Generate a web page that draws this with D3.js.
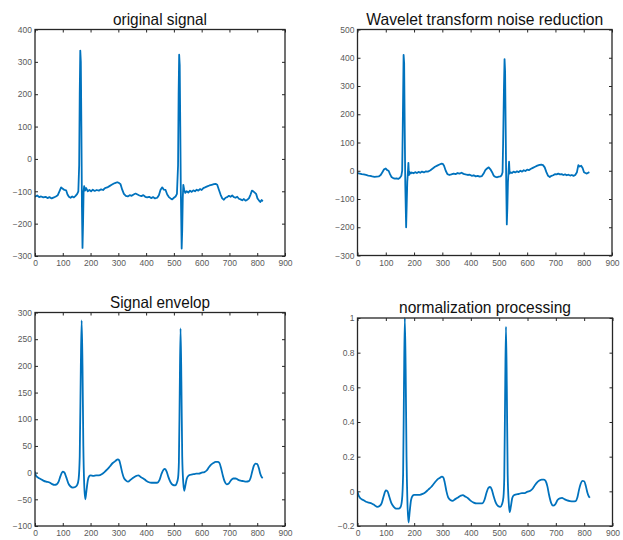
<!DOCTYPE html>
<html><head><meta charset="utf-8">
<script src="https://cdn.jsdelivr.net/npm/d3@7"></script>
<style>body{margin:0;background:#fff}svg{display:block}</style>
</head><body>
<script>
// ---- data ----
const origX = [0,8,15,22,30,38,45,52,60,68,75,82,88,94,100,106,112,117,122,128,134,140,146,152,156,159,161,163,165,167,169,171,173,175,177,180,184,190,196,202,208,215,222,230,238,245,252,260,268,276,284,290,296,302,308,314,320,327,334,341,348,355,362,369,376,383,390,397,404,411,418,425,432,440,446,452,458,464,470,476,482,488,494,500,506,511,515,517,519,521,523,525,528,530,532,534,537,541,546,552,558,564,570,576,582,588,594,600,606,612,620,628,636,644,650,656,662,668,674,680,686,692,698,704,710,716,722,728,734,740,746,752,758,764,770,776,781,786,791,796,801,806,811,816,820];
const origY = [-117,-113,-118,-116,-119,-117,-121,-118,-122,-119,-116,-112,-100,-88,-92,-96,-97,-110,-117,-120,-116,-119,-114,-108,-100,-20,200,335,300,100,-150,-275,-200,-100,-84,-98,-90,-100,-96,-100,-95,-99,-96,-98,-94,-96,-90,-88,-84,-80,-76,-74,-72,-74,-78,-95,-108,-114,-116,-112,-114,-110,-107,-110,-113,-115,-112,-117,-119,-117,-121,-118,-122,-120,-112,-95,-88,-95,-96,-110,-118,-122,-125,-120,-116,-108,-20,200,322,290,100,-100,-277,-220,-120,-80,-95,-105,-100,-104,-98,-102,-97,-100,-95,-98,-93,-96,-90,-88,-85,-82,-80,-78,-77,-80,-95,-110,-122,-126,-120,-118,-114,-117,-113,-118,-120,-117,-123,-125,-128,-124,-129,-126,-122,-110,-98,-100,-104,-108,-122,-128,-133,-127,-131];

const waveX = [0,8,15,22,30,38,45,52,60,68,75,82,88,94,100,105,110,115,120,126,132,138,144,150,155,158,160,163,165,167,169,172,174,176,178,180,182,185,188,192,198,204,210,216,222,228,235,242,250,258,266,274,282,290,296,302,306,312,318,325,332,340,347,354,361,368,375,382,390,397,404,411,418,425,432,440,446,452,458,464,470,476,482,488,494,500,506,510,513,515,518,520,522,524,526,528,530,532,534,536,538,541,546,552,558,564,570,576,582,588,594,600,606,612,620,628,636,644,650,656,662,668,674,680,686,692,698,704,710,716,722,728,734,740,746,752,758,764,770,776,781,786,791,796,801,806,811,816,820];
const waveY = [-8,-10,-12,-13,-15,-17,-18,-20,-22,-21,-20,-15,-5,5,8,2,0,-12,-22,-26,-28,-27,-29,-25,-18,0,150,410,380,150,-50,-200,-120,-40,-10,28,-15,-5,-10,-6,-9,-5,-8,-4,-7,-3,-6,-2,-3,2,8,14,18,22,25,24,18,0,-12,-15,-13,-10,-12,-8,-10,-7,-11,-13,-15,-14,-18,-16,-20,-18,-21,-19,-10,2,8,12,5,-5,-18,-22,-23,-21,-20,-15,-5,100,300,395,350,150,-50,-190,-130,-40,-5,32,-10,-5,-8,-3,-6,-2,-5,0,-3,2,-1,4,2,6,10,14,18,21,22,20,12,-5,-18,-22,-18,-16,-12,-13,-10,-13,-12,-15,-13,-16,-14,-17,-15,-18,-15,-5,20,15,18,10,-5,-8,-10,-7,-5];

const envX = [0,3,10,20,30,40,50,60,70,78,85,92,100,106,112,120,128,136,145,152,157,161,165,168,171,174,177,181,185,190,195,200,210,220,230,240,250,260,270,280,290,298,303,308,314,320,328,335,345,355,365,372,380,390,400,410,420,430,440,448,455,462,468,474,480,488,496,504,510,515,518,521,524,527,530,534,537,541,546,552,560,570,580,590,600,610,618,626,634,642,650,658,664,670,676,683,690,698,706,714,722,730,740,750,760,770,776,782,788,794,800,806,811,816,820];
const envY = [2,-5,-9,-12,-15,-17,-18,-21,-23,-22,-17,-6,2,0,-8,-20,-26,-28,-27,-23,-12,30,200,285,200,50,-20,-50,-35,-15,-7,-5,-6,-5,-5,-3,1,6,12,18,22,25,23,14,0,-10,-15,-17,-13,-9,-6,-5,-8,-11,-15,-18,-19,-19,-19,-14,-3,5,7,2,-8,-18,-23,-24,-20,-10,20,150,270,170,30,-20,-34,-25,-12,-6,-4,-3,-2,-2,0,1,4,10,15,18,20,20,18,8,-5,-17,-22,-20,-14,-11,-11,-13,-15,-16,-17,-16,-10,2,13,17,16,8,-2,-8,-10];

const normX = [0,3,10,20,30,40,50,60,70,78,85,92,100,106,112,120,128,136,145,152,157,161,164,167,170,173,176,180,184,189,195,200,210,220,230,240,250,260,270,280,290,298,303,308,314,320,328,335,345,355,365,372,380,390,400,410,420,430,440,448,455,462,468,474,480,488,496,504,510,515,518,521,524,527,530,534,537,541,546,552,560,570,580,590,600,610,618,626,634,642,650,658,664,670,676,683,690,698,706,714,722,730,740,750,760,770,776,782,788,794,800,806,811,816,820];
const normY = [0,-0.02,-0.04,-0.05,-0.06,-0.065,-0.07,-0.08,-0.09,-0.085,-0.07,-0.03,0.005,0,-0.03,-0.07,-0.09,-0.1,-0.1,-0.09,-0.05,0.1,0.6,1.0,0.7,0.2,-0.05,-0.18,-0.12,-0.05,-0.025,-0.02,-0.02,-0.02,-0.015,-0.005,0.01,0.025,0.045,0.065,0.077,0.085,0.08,0.05,0,-0.035,-0.05,-0.055,-0.045,-0.035,-0.025,-0.022,-0.03,-0.04,-0.055,-0.065,-0.07,-0.07,-0.07,-0.05,-0.01,0.02,0.025,0.01,-0.025,-0.065,-0.085,-0.09,-0.075,-0.035,0.08,0.55,0.95,0.6,0.1,-0.07,-0.12,-0.09,-0.04,-0.022,-0.018,-0.015,-0.01,-0.01,-0.002,0.003,0.015,0.035,0.052,0.062,0.068,0.068,0.06,0.03,-0.02,-0.065,-0.082,-0.075,-0.05,-0.04,-0.038,-0.045,-0.052,-0.056,-0.058,-0.056,-0.035,0.01,0.045,0.06,0.058,0.03,-0.005,-0.028,-0.037];

const xTicks = [0,100,200,300,400,500,600,700,800,900];
const origTicks = [-300,-200,-100,0,100,200,300,400];
const waveTicks = [-300,-200,-100,0,100,200,300,400,500];
const envTicks = [-100,-50,0,50,100,150,200,250,300];
const normTicks = [-0.2,0,0.2,0.4,0.6,0.8,1];
const titles = ["original signal","Wavelet transform noise reduction","Signal envelop","normalization processing"];

// ---- layout ----
const panels = [
  {x:origX, y:origY, yt:origTicks, box:[35,285,29.5,256], tb:25, tw:94, curve:d3.curveLinear},
  {x:waveX, y:waveY, yt:waveTicks, box:[357.5,612,29.5,255.5], tb:25, tw:237, curve:d3.curveLinear},
  {x:envX, y:envY, yt:envTicks, box:[35,285,312.5,526], tb:308, tw:100, curve:d3.curveMonotoneX},
  {x:normX, y:normY, yt:normTicks, box:[357.5,612.5,318,526], tb:313, tw:172, curve:d3.curveMonotoneX}
];

const svg = d3.select("body").append("svg").attr("width",623).attr("height",540);
const fontFam = "'Liberation Sans', Arial, Helvetica, sans-serif";

panels.forEach((p,i)=>{
  const [x0,x1,y0,y1] = p.box;
  const xs = d3.scaleLinear().domain([0,900]).range([x0,x1]);
  const ys = d3.scaleLinear().domain([p.yt[0], p.yt[p.yt.length-1]]).range([y1,y0]);
  const g = svg.append("g");

  svg.append("clipPath").attr("id","c"+i).append("rect")
    .attr("x",x0).attr("y",y0-1).attr("width",x1-x0).attr("height",y1-y0+2);

  const fmt = d => (Math.abs(d) < 1e-9 ? "0" : d3.format("~g")(d));
  const styleAxis = sel => {
    sel.select(".domain").remove();
    sel.selectAll("line").attr("stroke","#262626").attr("stroke-width",1);
    sel.selectAll("text").attr("fill","#5a5a5a").style("font-family",fontFam).style("font-size","8.5px");
  };
  g.append("g").attr("transform",`translate(0,${y1})`)
    .call(d3.axisBottom(xs).tickValues(xTicks).tickSizeInner(-3).tickSizeOuter(0).tickPadding(4).tickFormat(fmt)).call(styleAxis);
  g.append("g").attr("transform",`translate(0,${y0})`)
    .call(d3.axisTop(xs).tickValues(xTicks).tickSizeInner(-3).tickSizeOuter(0).tickFormat("")).call(styleAxis);
  g.append("g").attr("transform",`translate(${x0},0)`)
    .call(d3.axisLeft(ys).tickValues(p.yt).tickSizeInner(-3).tickSizeOuter(0).tickPadding(3).tickFormat(fmt)).call(styleAxis);
  g.append("g").attr("transform",`translate(${x1},0)`)
    .call(d3.axisRight(ys).tickValues(p.yt).tickSizeInner(-3).tickSizeOuter(0).tickFormat("")).call(styleAxis);

  const pts = p.x.map((v,k)=>[v,p.y[k]]);
  g.append("path").datum(pts)
    .attr("clip-path",`url(#c${i})`)
    .attr("fill","none").attr("stroke","#0072BD").attr("stroke-width",1.8)
    .attr("stroke-linejoin","round")
    .attr("d", d3.line().x(d=>xs(d[0])).y(d=>ys(d[1])).curve(p.curve));

  g.append("rect").attr("x",x0).attr("y",y0).attr("width",x1-x0).attr("height",y1-y0)
    .attr("fill","none").attr("stroke","#262626").attr("stroke-width",1.3);

  g.append("text").attr("x",(x0+x1)/2).attr("y",p.tb).attr("text-anchor","middle")
    .attr("textLength",p.tw).attr("lengthAdjust","spacingAndGlyphs")
    .style("font-family",fontFam).style("font-size","16.5px").attr("fill","#111")
    .text(titles[i]);
});
</script>
</body></html>
